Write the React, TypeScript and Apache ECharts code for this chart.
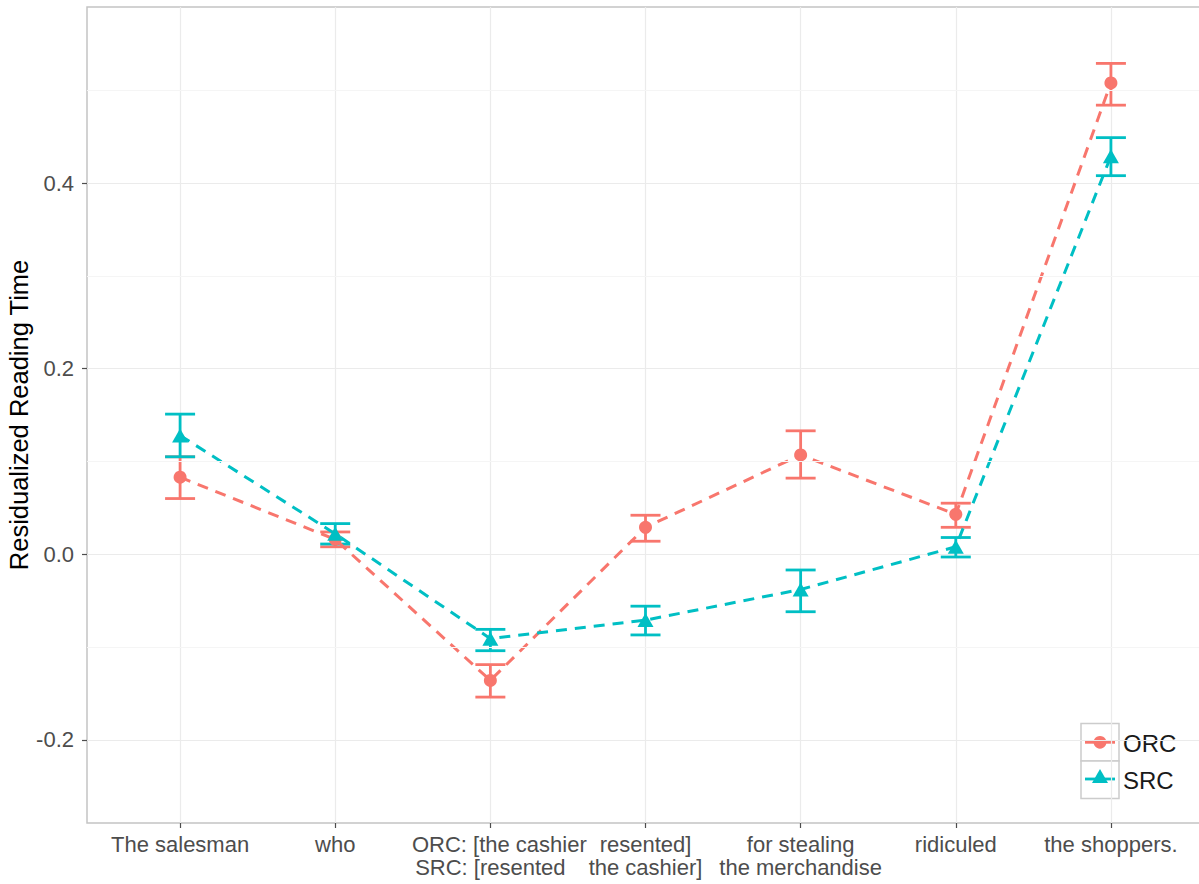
import React, { useEffect, useRef } from "react";
import * as echarts from "echarts";

const categories = [
  "The salesman",
  "who",
  "ORC: [the cashier\nSRC: [resented",
  "resented]\nthe cashier]",
  "for stealing\nthe merchandise",
  "ridiculed",
  "the shoppers.",
];
const orcMean = [0.083, 0.016, -0.136, 0.029, 0.107, 0.043, 0.508];
const orcLow = [0.060, 0.008, -0.154, 0.014, 0.082, 0.029, 0.484];
const orcHigh = [0.105, 0.024, -0.119, 0.042, 0.133, 0.055, 0.529];
const srcMean = [0.128, 0.022, -0.091, -0.071, -0.038, 0.008, 0.429];
const srcLow = [0.105, 0.011, -0.104, -0.087, -0.062, -0.003, 0.408];
const srcHigh = [0.151, 0.033, -0.081, -0.056, -0.017, 0.018, 0.449];
const yTicks = [-0.2, 0, 0.2, 0.4];
const yMinor = [-0.1, 0.1, 0.3, 0.5];
const seriesNames = ["ORC", "SRC"];

const RED = "#F8766D";
const TEAL = "#00BFC4";
const FONT = "'Liberation Sans', Arial, Helvetica, sans-serif";

export default function App() {
  const ref = useRef<HTMLDivElement>(null);
  useEffect(() => {
    const chart = echarts.init(ref.current!, null, { renderer: "svg" });
    const xs = categories.map((_, i) => i + 1);
    const errData = (low: number[], high: number[]) => xs.map((x, i) => [x, low[i], high[i]]);
    const renderErr = (color: string) => (params: any, api: any) => {
      const x = api.value(0);
      const pLo = api.coord([x, api.value(1)]);
      const pHi = api.coord([x, api.value(2)]);
      const hw = 15;
      const style = { stroke: color, lineWidth: 2.8, fill: "none" };
      return {
        type: "group",
        children: [
          { type: "line", shape: { x1: pLo[0], y1: pLo[1], x2: pHi[0], y2: pHi[1] }, style },
          { type: "line", shape: { x1: pLo[0] - hw, y1: pLo[1], x2: pLo[0] + hw, y2: pLo[1] }, style },
          { type: "line", shape: { x1: pHi[0] - hw, y1: pHi[1], x2: pHi[0] + hw, y2: pHi[1] }, style },
        ],
      };
    };
    const labelText = (v: number) => {
      const i = Math.round(v) - 1;
      const c = categories[i];
      if (c === undefined) return "";
      if (i === 2) {
        const [a, b] = c.split("\n");
        return `{a|${a}}\n{b|${b}}`;
      }
      return c;
    };
    const richBase = { fontSize: 22, lineHeight: 23, color: "#4d4d4d", fontFamily: FONT };

    chart.setOption({
      animation: false,
      backgroundColor: "#ffffff",
      grid: {
        left: 87,
        right: -5,
        top: 7,
        bottom: 61,
        outerBoundsMode: "none",
        containLabel: false,
        show: true,
        borderColor: "#c4c4c4",
        borderWidth: 1.5,
        backgroundColor: "#ffffff",
      },
      xAxis: {
        type: "value",
        min: 0.4,
        max: 7.6,
        axisLine: { show: false, onZero: false },
        axisTick: { show: true, length: 5, customValues: xs, lineStyle: { color: "#4d4d4d", width: 1.2 } },
        axisLabel: {
          customValues: xs,
          margin: 10,
          fontSize: 22,
          lineHeight: 23,
          color: "#4d4d4d",
          fontFamily: FONT,
          formatter: labelText,
          rich: {
            a: { ...richBase, padding: [0, 0, 0, 18] },
            b: { ...richBase },
          },
        },
        splitLine: { show: true, lineStyle: { color: "#ebebeb", width: 1.2 } },
      },
      yAxis: {
        type: "value",
        min: -0.2897,
        max: 0.5898,
        name: "Residualized Reading Time",
        nameLocation: "middle",
        nameRotate: 90,
        nameGap: 55,
        nameMoveOverlap: false,
        nameTextStyle: { fontSize: 25.5, color: "#000000", fontFamily: FONT },
        axisLine: { show: false, onZero: false },
        axisTick: { show: true, length: 5, customValues: yTicks, lineStyle: { color: "#4d4d4d", width: 1.2 } },
        axisLabel: {
          customValues: yTicks,
          margin: 13,
          fontSize: 22,
          color: "#4d4d4d",
          fontFamily: FONT,
          formatter: (v: number) => (Math.abs(v) < 1e-9 ? "0.0" : v.toFixed(1)),
        },
        splitLine: { show: true, lineStyle: { color: "#ebebeb", width: 1.2 } },
      },
      series: [
        {
          type: "line",
          data: [],
          silent: true,
          z: 1,
          markLine: {
            silent: true,
            symbol: "none",
            label: { show: false },
            lineStyle: { color: "#f5f5f5", width: 1, type: "solid" },
            data: yMinor.map((v) => ({ yAxis: v })),
          },
        },
        {
          type: "custom",
          name: seriesNames[0] + " err",
          renderItem: renderErr(RED),
          data: errData(orcLow, orcHigh),
          z: 3,
        },
        {
          type: "custom",
          name: seriesNames[1] + " err",
          renderItem: renderErr(TEAL),
          data: errData(srcLow, srcHigh),
          z: 3,
        },
        {
          type: "line",
          name: seriesNames[0],
          data: xs.map((x, i) => [x, orcMean[i]]),
          symbol: "circle",
          symbolSize: 13,
          itemStyle: { color: RED },
          lineStyle: { color: RED, width: 3, type: [11, 8] },
          z: 4,
        },
        {
          type: "line",
          name: seriesNames[1],
          data: xs.map((x, i) => [x, srcMean[i]]),
          symbol: "triangle",
          symbolSize: [16, 14],
          itemStyle: { color: TEAL },
          lineStyle: { color: TEAL, width: 3, type: [11, 8] },
          z: 4,
        },
      ],
      graphic: [
        {
          type: "group",
          z: 100,
          children: [
            { type: "rect", shape: { x: 1075, y: 708, width: 120, height: 98 }, style: { fill: "#ffffff" } },
            { type: "rect", shape: { x: 1081, y: 723.5, width: 38, height: 37.5 }, style: { fill: "#ffffff", stroke: "#cccccc", lineWidth: 1.5 } },
            { type: "rect", shape: { x: 1081, y: 761, width: 38, height: 37.5 }, style: { fill: "#ffffff", stroke: "#cccccc", lineWidth: 1.5 } },
            { type: "line", shape: { x1: 1085, y1: 742.3, x2: 1115, y2: 742.3 }, style: { stroke: RED, lineWidth: 2.8 } },
            { type: "circle", shape: { cx: 1100, cy: 742.3, r: 6.4 }, style: { fill: RED } },
            { type: "line", shape: { x1: 1085, y1: 779, x2: 1115, y2: 779 }, style: { stroke: TEAL, lineWidth: 2.8 } },
            { type: "polygon", shape: { points: [[1092, 783], [1108, 783], [1100, 769]] }, style: { fill: TEAL } },
            { type: "text", style: { x: 1123, y: 743, text: seriesNames[0], fontSize: 24, fontFamily: FONT, fill: "#1a1a1a", verticalAlign: "middle", align: "left" } },
            { type: "text", style: { x: 1123, y: 780, text: seriesNames[1], fontSize: 24, fontFamily: FONT, fill: "#1a1a1a", verticalAlign: "middle", align: "left" } },
          ],
        },
      ],
    });
    return () => chart.dispose();
  }, []);
  return (
    <div
      ref={ref}
      style={{ position: "fixed", left: 0, top: 0, width: 1199, height: 884, background: "#ffffff" }}
    />
  );
}
